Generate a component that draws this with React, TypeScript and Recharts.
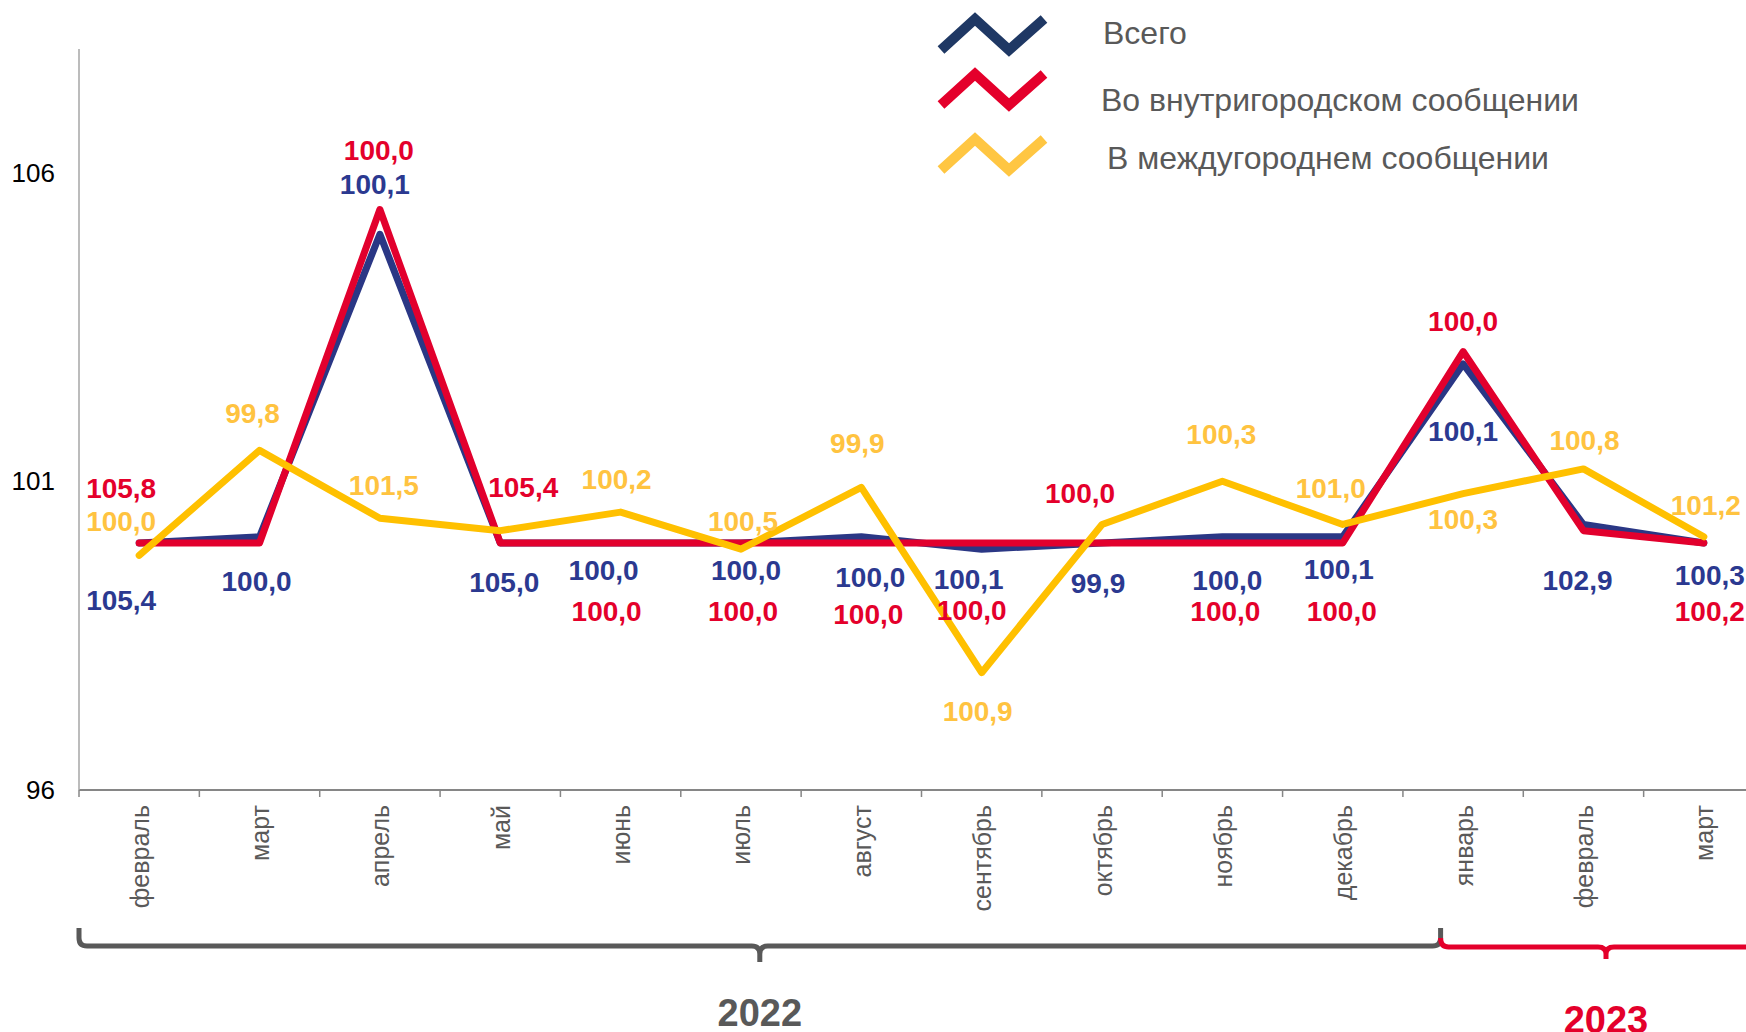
import { LabelList, Line, LineChart, XAxis, YAxis } from "recharts";

const MONTHS = ["февраль", "март", "апрель", "май", "июнь", "июль", "август", "сентябрь", "октябрь", "ноябрь", "декабрь", "январь", "февраль", "март"];

const TOTAL = [100.0, 100.1, 105.0, 100.0, 100.0, 100.0, 100.1, 99.9, 100.0, 100.1, 100.1, 102.9, 100.3, 100.0];
const CITY = [100.0, 100.0, 105.4, 100.0, 100.0, 100.0, 100.0, 100.0, 100.0, 100.0, 100.0, 103.1, 100.2, 100.0];
const INTERCITY = [99.8, 101.5, 100.4, 100.2, 100.5, 99.9, 100.9, 97.9, 100.3, 101.0, 100.3, 100.8, 101.2, 100.1];

// data labels as printed on the chart
const TOTAL_LABELS = ["105,4", "100,0", "100,1", "105,0", "100,0", "100,0", "100,0", "100,1", "99,9", "100,0", "100,1", "100,1", "102,9", "100,3"];
const CITY_LABELS = ["105,8", "", "100,0", "105,4", "100,0", "100,0", "100,0", "100,0", "100,0", "100,0", "100,0", "100,0", "", "100,2"];
const INTERCITY_LABELS = ["100,0", "99,8", "101,5", "", "100,2", "100,5", "99,9", "100,9", "", "100,3", "101,0", "100,3", "100,8", "101,2"];

const Y_TICKS = [96, 101, 106];
const YEARS = ["2022", "2023"];

const SERIES = [
  { key: "total", name: "Всего", line: "#2A3785", label: "#2B3990", icon: "#1F3864" },
  { key: "city", name: "Во внутригородском сообщении", line: "#E2002D", label: "#E4002B", icon: "#E4002B" },
  { key: "intercity", name: "В междугороднем сообщении", line: "#FFC000", label: "#FFC340", icon: "#FFC642" },
];

// label placement relative to the point (dx, dy)
const TOTAL_OFF = [[-18, 57], [-3, 44], [-5, -50], [4, 39], [-17, 27], [5, 27], [9, 40], [-13, 30], [-4, 40], [5, 43], [-4, 32], [0, 67], [-6, 55], [6, 32]];
const CITY_OFF = [[-18, -55], [0, 0], [-1, -60], [23, -56], [-14, 68], [2, 68], [7, 71], [-10, 67], [-22, -50], [3, 68], [-1, 68], [0, -31], [0, 0], [6, 68]];
const INTERCITY_OFF = [[-18, -34], [-7, -37], [4, -33], [0, 0], [-4, -33], [2, -28], [-4, -45], [-4, 38], [0, 0], [-1, -47], [-12, -37], [0, 25], [1, -29], [2, -32]];

const FONT = "'Liberation Sans', Arial, sans-serif";
const GRAY = "#595959";

const W = 1780;
const H = 1032;
const LEFT = 79;
const RIGHT = 16;
const TOP = 49;
const BOTTOM = 790;
const BAND = (W - LEFT - RIGHT) / MONTHS.length;

const data = MONTHS.map((month, i) => ({
  month,
  total: TOTAL[i],
  city: CITY[i],
  intercity: INTERCITY[i],
  totalLabel: TOTAL_LABELS[i],
  cityLabel: CITY_LABELS[i],
  intercityLabel: INTERCITY_LABELS[i],
}));

function labelRenderer(color: string, offsets: number[][]) {
  return (props: any) => {
    const { x, y, index, value } = props;
    if (!value) return null;
    const [dx, dy] = offsets[index] || [0, 0];
    return (
      <text x={x + dx} y={y + dy} dy="0.36em" textAnchor="middle" fill={color} fontSize={28} fontWeight="bold" fontFamily={FONT}>
        {value}
      </text>
    );
  };
}

function MonthTick(props: any) {
  const { x, payload, index } = props;
  const left = x - BAND / 2;
  return (
    <g>
      <line x1={left} x2={left} y1={BOTTOM} y2={BOTTOM + 7} stroke="#868686" strokeWidth={1.5} />
      {index === MONTHS.length - 1 ? <line x1={x + BAND / 2} x2={x + BAND / 2} y1={BOTTOM} y2={BOTTOM + 7} stroke="#868686" strokeWidth={1.5} /> : null}
      <text x={x + 2} y={BOTTOM + 15} dy="0.3em" transform={`rotate(-90, ${x + 2}, ${BOTTOM + 15})`} textAnchor="end" fill={GRAY} fontSize={25} fontFamily={FONT}>
        {payload.value}
      </text>
    </g>
  );
}

function Decorations() {
  const split = 1440.6;
  const mid22 = (LEFT + split) / 2;
  const mid23 = 1606;
  const end23 = 2 * mid23 - split;
  const by = 946;
  const r = 8;
  const gray = `M${LEFT},928 L${LEFT},${by - r} Q${LEFT},${by} ${LEFT + r},${by} L${mid22 - r},${by} Q${mid22},${by} ${mid22},${by + r} L${mid22},${by + 16} M${mid22},${by + r} Q${mid22},${by} ${mid22 + r},${by} L${split - r},${by} Q${split},${by} ${split},${by - r} L${split},928`;
  const red = `M${split},${by - r} Q${split},${by + 1} ${split + r},${by + 1} L${mid23 - r},${by + 1} Q${mid23},${by + 1} ${mid23},${by + r} L${mid23},${by + 13} M${mid23},${by + r} Q${mid23},${by + 1} ${mid23 + r},${by + 1} L${end23 - r},${by + 1} Q${end23},${by + 1} ${end23},${by - r}`;
  const icons = [
    { top: 19, textY: 44 },
    { top: 74, textY: 111 },
    { top: 139, textY: 169 },
  ];
  const textX = [1103, 1101, 1107];
  return (
    <svg width={1746} height={1032} style={{ position: "absolute", left: 0, top: 0, pointerEvents: "none" }}>
      <path d={gray} fill="none" stroke={GRAY} strokeWidth={5} />
      <path d={red} fill="none" stroke="#E4002B" strokeWidth={5} />
      <text x={mid22} y={1026} textAnchor="middle" fill={GRAY} fontSize={38} fontWeight="bold" fontFamily={FONT}>{YEARS[0]}</text>
      <text x={mid23} y={1033} textAnchor="middle" fill="#E4002B" fontSize={38} fontWeight="bold" fontFamily={FONT}>{YEARS[1]}</text>
      {SERIES.map((s, i) => {
        const t = icons[i].top;
        const pts = `941,${t + 31} 975,${t} 1009,${t + 31} 1044,${t}`;
        return (
          <g key={s.key}>
            <polyline points={pts} fill="none" stroke={s.icon} strokeWidth={10} strokeLinejoin="miter" />
            <text x={textX[i]} y={icons[i].textY} fill={GRAY} fontSize={32} fontFamily={FONT}>{s.name}</text>
          </g>
        );
      })}
    </svg>
  );
}

export default function App() {
  const offsets: Record<string, number[][]> = { total: TOTAL_OFF, city: CITY_OFF, intercity: INTERCITY_OFF };
  return (
    <div style={{ position: "absolute", left: 0, top: 0, width: 1746, height: 1032, overflow: "hidden", background: "#fff" }}>
      <LineChart width={W} height={H} data={data} margin={{ top: TOP, right: RIGHT, bottom: 0, left: 0 }}>
        <XAxis dataKey="month" interval={0} padding={{ left: BAND / 2, right: BAND / 2 }} height={H - BOTTOM} tickLine={false} axisLine={{ stroke: "#868686", strokeWidth: 2 }} tick={<MonthTick />} />
        <YAxis domain={[96, 108]} ticks={Y_TICKS} width={LEFT} tickLine={false} tickSize={0} tickMargin={24} axisLine={{ stroke: "#A6A6A6", strokeWidth: 1.5 }} tick={{ fill: "#000", fontSize: 26, fontFamily: FONT }} />
        {SERIES.map((s) => (
          <Line key={s.key} dataKey={s.key} name={s.name} type="linear" stroke={s.line} strokeWidth={7} strokeLinejoin="round" strokeLinecap="round" dot={false} activeDot={false} isAnimationActive={false}>
            <LabelList dataKey={`${s.key}Label`} content={labelRenderer(s.label, offsets[s.key])} />
          </Line>
        ))}
      </LineChart>
      <Decorations />
    </div>
  );
}
